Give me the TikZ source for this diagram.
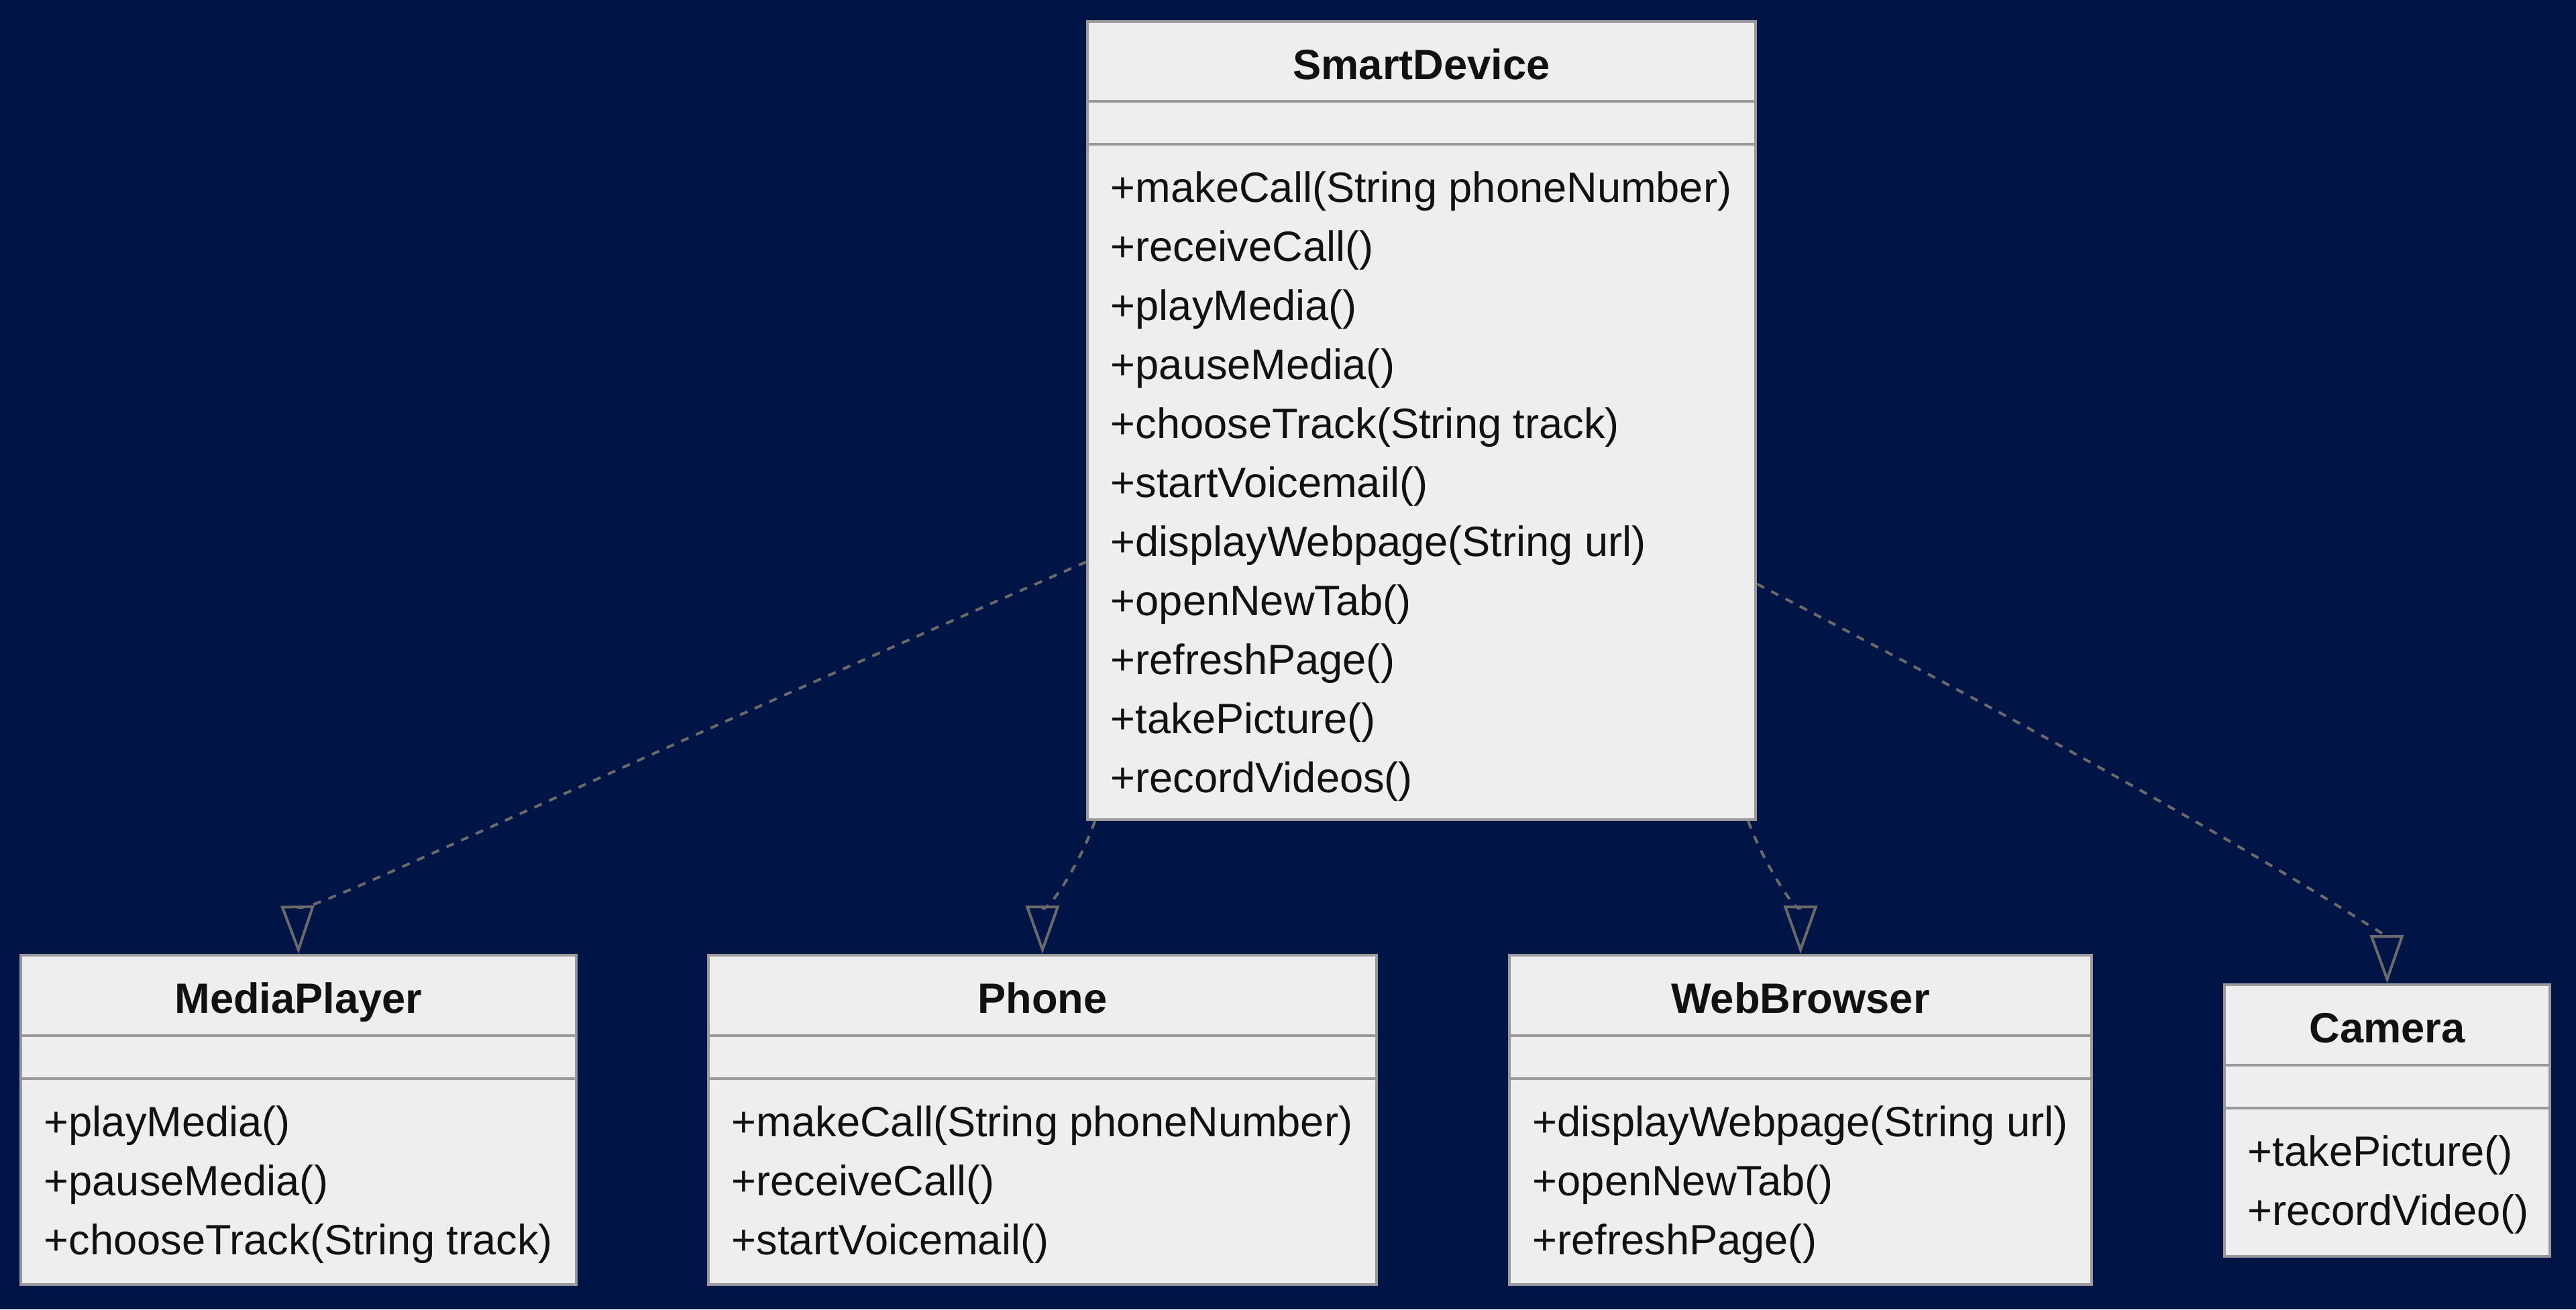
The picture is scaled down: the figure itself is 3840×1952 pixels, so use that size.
\documentclass[tikz,border=0pt]{standalone}
\usepackage{fontspec}
\setmainfont{Liberation Sans}
\usetikzlibrary{arrows.meta,calc,fit}
\definecolor{bg}{RGB}{0,21,70}
\definecolor{boxfill}{HTML}{EEEEEE}
\definecolor{boxline}{HTML}{999999}
\definecolor{txt}{HTML}{111111}
\definecolor{conncol}{HTML}{6A6A6A}
\tikzset{
  classbox/.style={draw=boxline, fill=boxfill, line width=1pt, inner sep=0pt, rectangle},
  sepline/.style={draw=boxline, line width=1pt},
  titletext/.style={anchor=base, inner sep=0pt, text=txt, font=\fontsize{15.8}{19}\selectfont\bfseries},
  methtext/.style={anchor=base west, inner sep=0pt, text=txt, font=\fontsize{15.8}{19}\selectfont},
  realize/.style={draw=conncol, line width=1pt, dash pattern=on 3pt off 3pt,
    -{Triangle[open, length=18pt, width=12.5pt]}},
}
\newcommand{\umlclass}[9]{%
  \node[classbox, fit={(#2,#3) (#4,#5)}] (#1) {};
  \draw[sepline] (#2,#6) -- (#4,#6);
  \draw[sepline] (#2,#7) -- (#4,#7);
  \node[titletext] (#1-title) at ({(#2+#4)/2},{#3+86}) {#8};
  \foreach \m [count=\i from 0] in {#9}
    \node[methtext] (#1-m\i) at ({#2+34},{#7+86+88*\i}) {\m};
}
\begin{document}
\begin{tikzpicture}[x=0.25pt, y=-0.25pt]
\fill[bg] (0,0) rectangle (3840,1952);
\useasboundingbox (0,0) rectangle (3840,1952);

\umlclass{sd}{1621}{32}{2617}{1222}{151}{215}{SmartDevice}{+makeCall(String phoneNumber),+receiveCall(),+playMedia(),+pauseMedia(),+chooseTrack(String track),+startVoicemail(),+displayWebpage(String url),+openNewTab(),+refreshPage(),+takePicture(),+recordVideos()}

\umlclass{mp}{31}{1424}{859}{1915}{1544}{1608}{MediaPlayer}{+playMedia(),+pauseMedia(),+chooseTrack(String track)}

\umlclass{ph}{1056}{1424}{2052}{1915}{1544}{1608}{Phone}{+makeCall(String phoneNumber),+receiveCall(),+startVoicemail()}

\umlclass{wb}{2250}{1424}{3118}{1915}{1544}{1608}{WebBrowser}{+displayWebpage(String url),+openNewTab(),+refreshPage()}

\umlclass{cam}{3316}{1468}{3801}{1873}{1588}{1652}{Camera}{+takePicture(),+recordVideo()}

\draw[realize] ($(sd.north west)!0.6765!(sd.south west)$) .. controls (700,1240) and (444,1372) .. (mp.north);
\draw[realize] ([xshift=3.25pt]sd.south west) .. controls (1610,1290) and (1554,1372) .. (ph.north);
\draw[realize] ([xshift=-3.25pt]sd.south east) .. controls (2630,1290) and (2684,1372) .. (wb.north);
\draw[realize] ($(sd.north east)!0.704!(sd.south east)$) .. controls (3350,1250) and (3558,1400) .. (cam.north);
\end{tikzpicture}
\end{document}
